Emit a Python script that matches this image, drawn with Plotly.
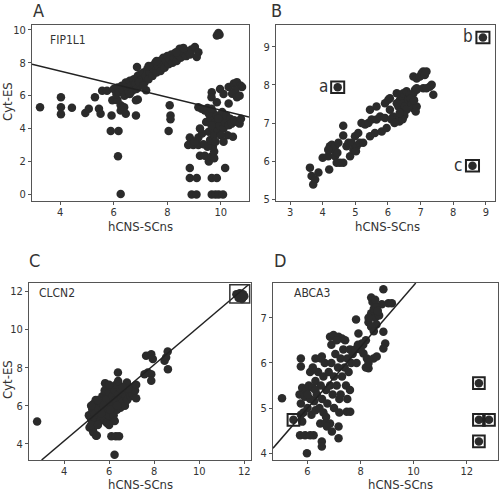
import plotly.graph_objects as go

# ---------------- data ----------------
panel_a_pts = [
    (3.25,5.3),(4.03,5.9),(4.03,5.3),(4.03,4.87),(4.44,5.27),(4.94,4.95),(5.07,5.21),(5.3,5.9),
    (5.45,5.2),(5.51,4.9),(5.57,6.3),(5.75,6.3),(5.92,4.8),(5.89,3.85),(6.18,3.85),(6.16,2.32),
    (6.26,0.02),(5.95,5.72),(6.26,5.41),(6.26,5.1),(6.39,5.3),(6.45,4.9),(6.83,4.8),(6.87,7.74),
    (6.9,5.76),(6.14,5.72),(6.83,5.72),
    (6.0,6.4),(6.1,6.1),(6.15,6.5),(6.2,6.2),(6.3,6.6),(6.35,6.3),(6.4,6.0),(6.45,6.8),(6.5,6.5),
    (6.55,6.2),(6.6,6.9),(6.65,6.6),(6.7,6.3),(6.75,7.0),(6.8,6.7),(6.85,6.4),(6.9,7.2),(6.95,6.9),
    (7.0,7.3),(7.0,6.6),(7.05,7.0),(7.1,7.4),(7.15,6.8),(7.2,7.2),(7.21,6.32),(7.25,7.6),(7.3,7.0),
    (7.35,7.4),(7.4,7.8),(7.45,7.2),(7.5,7.6),(7.55,8.0),(7.6,7.4),(7.65,7.8),(7.7,8.1),(7.75,7.5),
    (7.8,7.9),(7.85,8.3),(7.9,7.7),(7.95,8.1),(8.0,8.4),(8.05,7.9),(8.1,8.2),(8.15,8.5),(8.2,8.0),
    (8.25,8.3),(8.3,8.6),(8.35,8.1),(8.4,8.5),(8.46,8.85),(8.5,8.3),(8.6,8.6),(8.7,8.4),(8.75,8.7),
    (8.85,8.5),(8.9,8.8),(9.03,8.95),(9.16,8.64),(9.1,8.34),(8.34,8.64),(8.6,8.9),(7.3,7.8),(7.6,8.1),
    (6.95,6.82),(6.6,6.1),(7.1,6.6),
    (8.09,5.41),(8.12,4.8),(8.12,4.56),(8.05,3.85),
    (8.91,0.0),(9.09,0.0),(9.66,0.0),(9.8,0.0),(9.92,0.0),(10.08,0.0),
    (8.84,1.0),(9.1,1.0),(9.66,1.0),(9.85,1.0),(8.84,1.6),(10.16,1.6),
    (9.22,2.35),(9.4,2.35),(9.55,2.0),(9.65,2.3),(9.75,2.6),(9.7,2.9),(9.5,2.9),(9.6,3.3),
    (8.78,3.0),(8.97,3.0),(9.16,3.0),(9.35,3.05),(8.84,3.45),(9.16,3.45),(9.0,3.2),(9.3,3.7),
    (9.22,4.0),(9.45,4.4),(9.55,3.8),(9.6,4.6),(9.7,4.0),(9.7,5.0),(9.75,3.6),(9.8,4.4),(9.85,4.8),
    (9.9,3.9),(9.95,4.2),(10.0,4.6),(10.05,5.0),(10.1,4.0),(10.15,4.4),(10.2,4.8),(10.25,3.6),
    (10.3,4.2),(10.35,4.6),(10.4,4.3),(10.5,4.5),(10.6,4.4),(10.7,4.3),(10.75,4.6),(10.45,3.5),
    (9.65,4.2),(9.9,4.6),(10.0,3.6),(10.1,3.2),(9.8,3.2),(9.75,2.2),
    (9.16,5.3),(9.28,5.2),(9.4,5.1),(9.5,5.25),(9.55,4.9),(9.65,5.2),
    (9.66,6.2),(9.97,6.4),(10.1,6.1),(9.65,5.9),(9.85,5.6),
    (10.29,6.52),(10.48,6.73),(10.6,6.82),(10.73,6.62),(10.79,6.52),(10.54,6.32),(10.42,6.12),
    (10.29,5.52),(10.6,5.9),(10.7,6.0),
    (9.91,9.8),(9.85,9.65),(9.95,9.7),
]

panel_b_pts = [
    (3.61,5.83),(3.66,5.61),(3.77,5.52),(3.71,5.39),(3.87,5.7),(4.0,6.09),(4.17,6.13),(4.2,5.78),
    (4.22,6.39),(4.28,6.43),(4.33,6.3),(4.38,6.39),(4.17,6.3),(4.38,6.13),(4.43,5.96),(4.53,5.96),
    (4.63,5.96),(4.45,6.22),(4.63,6.93),(4.63,6.67),(4.48,6.48),(4.73,6.39),(4.79,6.48),(4.89,6.48),
    (4.84,6.13),(4.94,6.3),(5.04,6.39),(4.99,6.65),(5.09,6.74),(5.14,6.48),(5.24,6.48),(5.02,6.26),
    (5.19,7.0),(5.3,6.96),(5.4,7.0),(5.45,7.35),(5.65,7.43),(5.45,6.65),(5.6,6.74),(5.5,7.09),
    (5.65,7.09),(5.81,6.78),(5.76,7.17),(5.91,7.13),(5.96,6.87),(5.91,7.52),(6.01,7.61),(6.06,7.65),
    (6.06,7.35),(6.16,7.17),(6.11,7.09),(6.27,7.52),(6.32,7.43),(6.37,7.61),(6.42,7.7),(6.42,7.35),
    (6.35,7.17),(6.35,7.04),(6.47,7.78),(6.57,7.83),(6.67,7.74),(6.78,7.78),(6.83,7.87),(6.88,7.87),
    (6.47,7.52),(6.52,7.43),(6.57,7.35),(6.62,7.61),(6.72,7.52),(6.78,7.39),(6.88,7.43),(6.78,8.22),
    (6.88,8.17),(6.98,8.22),(7.03,8.3),(7.08,8.35),(7.13,8.26),(7.18,8.35),(6.88,7.91),(7.08,7.91),
    (7.34,8.0),(7.39,7.74),(6.27,7.78),(6.4,7.25),(6.5,7.2),(6.45,7.1),(6.7,7.65),(6.8,7.6),
    (6.85,7.3),(6.2,7.0),(6.36,7.26),(7.28,7.95),(7.18,7.91),
]
panel_b_marked = [(4.46,7.94),(8.91,9.24),(8.59,5.88)]
panel_b_marks = ["a","b","c"]

panel_c_pts = [
    (2.8,5.18),(6.39,7.75),(5.82,7.19),(6.79,7.22),(6.24,3.43),(6.1,4.4),(6.3,4.4),(6.44,4.4),
    (5.13,4.86),(5.28,4.69),(5.42,4.43),(6.09,5.21),
    (7.64,8.62),(7.87,8.71),(7.94,8.45),(7.72,7.75),(7.87,7.66),(7.87,7.31),(7.57,7.66),
    (8.53,8.53),(8.61,7.92),(8.46,8.36),(8.6,8.85),
    (5.1,5.5),(5.2,5.3),(5.25,5.8),(5.3,6.1),(5.35,5.6),(5.4,5.2),(5.4,6.3),(5.5,5.9),(5.55,5.5),
    (5.6,6.2),(5.6,5.2),(5.7,5.8),(5.7,6.5),(5.75,5.4),(5.8,6.1),(5.8,6.8),(5.85,5.6),(5.9,6.4),
    (5.9,5.1),(5.95,6.0),(6.0,6.7),(6.0,5.5),(6.05,6.2),(6.1,5.8),(6.1,7.0),(6.15,6.5),(6.2,6.0),
    (6.2,5.5),(6.25,6.8),(6.3,6.3),(6.3,7.1),(6.35,5.8),(6.4,6.6),(6.45,6.1),(6.5,6.9),(6.5,5.9),
    (6.55,6.4),(6.6,6.2),(6.65,6.6),(6.7,6.0),(6.75,6.5),(6.8,6.3),(6.9,6.7),(6.95,6.5),(7.0,6.9),
    (7.05,6.6),(7.1,7.0),(7.15,6.8),(7.2,7.1),(7.2,6.4),(6.85,6.9),(6.6,7.0),(6.4,7.3),(6.0,7.1),
    (5.3,4.9),(5.3,4.6),(5.45,4.45),(5.2,5.0),(5.5,5.0),(5.65,5.6),(5.85,6.3),(6.25,5.2),(6.0,5.0),
    (5.2,6.0),(5.5,6.3),(5.75,6.0),(6.05,5.8),(6.35,6.0),
    (11.65,11.85),(11.8,11.9),(11.95,11.85),(11.75,11.65),(11.9,11.6),(12.0,11.75),
]

panel_d_pts = [
    (5.04,5.22),(8.86,7.63),(5.98,4.0),(5.75,6.1),(5.75,5.92),
    (5.72,4.4),(5.91,4.4),(6.1,4.4),(6.23,4.4),(6.54,4.26),(6.54,4.15),
    (6.48,4.66),(6.67,4.66),(6.85,4.66),(6.73,4.59),(7.17,4.59),(7.17,4.33),(6.92,4.48),
    (7.48,4.92),(7.61,4.92),
    (6.54,6.14),(6.85,6.58),(6.98,6.62),(7.17,6.58),(7.3,6.54),(7.42,6.5),(7.83,6.96),
    (7.92,6.65),(8.05,6.43),(8.11,6.21),(8.24,6.1),(8.3,5.88),(8.49,6.1),(8.61,6.14),
    (8.86,6.69),(8.93,6.43),(8.86,6.32),(9.05,7.32),(9.18,7.32),
    (5.7,5.3),(5.75,5.1),(5.8,5.45),(5.85,4.9),(5.9,5.25),(5.75,4.85),(5.8,4.7),(5.95,5.4),
    (6.0,5.0),(6.05,5.5),(6.1,5.2),(6.15,4.85),(6.2,5.45),(6.25,5.15),(6.3,5.6),(6.3,4.95),
    (6.35,5.3),(6.4,5.8),(6.45,5.0),(6.5,5.5),(6.55,5.2),(6.6,5.7),(6.6,4.9),(6.65,6.0),(6.7,5.4),
    (6.75,5.1),(6.8,5.8),(6.85,5.5),(6.9,6.0),(6.95,5.3),(7.0,5.7),(7.05,6.2),(7.1,5.5),(7.15,5.9),
    (7.2,5.2),(7.25,6.1),(7.3,5.7),(7.35,6.3),(7.4,5.9),(7.45,5.5),(7.5,6.1),(7.55,5.8),(7.6,6.3),
    (7.65,6.0),(7.7,6.2),(7.8,6.3),(7.85,6.0),(7.9,6.4),(8.0,6.3),(8.1,6.4),(8.2,6.5),(7.0,5.0),
    (7.2,4.9),(7.25,5.3),(7.5,5.2),(7.6,5.4),(6.5,6.1),(6.3,6.1),(6.1,5.8),(6.9,6.4),(7.1,6.5),
    (6.7,4.8),(6.3,5.4),(6.0,5.3),(6.2,5.9),
    (8.3,6.9),(8.4,7.1),(8.5,7.2),(8.55,7.0),(8.45,7.35),(8.6,6.85),(8.7,7.05),(8.8,7.3),(8.6,7.25),
    (8.4,6.8),(8.3,7.0),(8.5,6.7),(8.65,7.15),(8.2,5.9),(8.3,6.0),(8.4,7.45),(8.55,7.4),
]
panel_d_marked = [(5.47,4.74),(12.46,5.55),(12.46,4.74),(12.84,4.74),(12.46,4.26)]

# fitted lines (slope, intercept, x-extent)
fit_a = (-0.395, 9.07, 2.95, 11.05)
fit_c = (1.0, 0.16, 3.0, 12.2)
fit_d = (0.68, 4.11 - 0.68 * 4.70, 4.70, 10.08)

# ---------------- layout helpers ----------------
W, H = 499, 492
DOT = "#2b2b2b"
AX = "#555555"
FONT = "Liberation Sans Narrow, DejaVu Sans Condensed, Arial Narrow, sans-serif"

panels = {
    "A": ("x", "y", (32, 249, 25, 201), [2.95, 11.05], [-0.4, 10.29], [4, 6, 8, 10], [0, 2, 4, 6, 8, 10]),
    "B": ("x2", "y2", (276, 495, 25, 201), [2.57, 9.28], [4.955, 9.57], [3, 4, 5, 6, 7, 8, 9], [5, 6, 7, 8, 9]),
    "C": ("x3", "y3", (29, 251, 283, 460), [2.44, 12.3], [3.16, 12.44], [4, 6, 8, 10, 12], [4, 6, 8, 10, 12]),
    "D": ("x4", "y4", (273, 498, 283, 460), [4.70, 13.18], [3.85, 7.77], [6, 8, 10, 12], [4, 5, 6, 7]),
}

fig = go.Figure()

def add_pts(pts, ax):
    xa, ya = panels[ax][0], panels[ax][1]
    fig.add_trace(go.Scatter(
        x=[p[0] for p in pts], y=[p[1] for p in pts], mode="markers",
        marker=dict(size=8.5, color=DOT, line=dict(width=0)),
        xaxis=xa, yaxis=ya, showlegend=False, hoverinfo="skip"))

def add_fit(fit, ax):
    m, b, x0, x1 = fit
    xa, ya = panels[ax][0], panels[ax][1]
    fig.add_trace(go.Scatter(
        x=[x0, x1], y=[m * x0 + b, m * x1 + b], mode="lines",
        line=dict(color="#222222", width=1.5),
        xaxis=xa, yaxis=ya, showlegend=False, hoverinfo="skip"))

add_pts(panel_a_pts, "A")
add_fit(fit_a, "A")
add_pts(panel_b_pts + panel_b_marked, "B")
add_pts(panel_c_pts, "C")
add_fit(fit_c, "C")
add_pts(panel_d_pts + panel_d_marked, "D")
add_fit(fit_d, "D")

layout = dict(width=W, height=H, margin=dict(l=0, r=0, t=0, b=0, autoexpand=False),
              paper_bgcolor="white", plot_bgcolor="white", showlegend=False,
              font=dict(family=FONT, color="#333333", size=11))

for name, (xa, ya, (px0, px1, py0, py1), xr, yr, xt, yt) in panels.items():
    xkey = "xaxis" + xa[1:]
    ykey = "yaxis" + ya[1:]
    common = dict(showline=True, mirror=True, linecolor=AX, linewidth=1, showgrid=False,
                  zeroline=False, ticks="outside", ticklen=3, tickcolor=AX, automargin=False,
                  tickfont=dict(family=FONT, size=11, color="#333333"), fixedrange=True)
    layout[xkey] = dict(domain=[px0 / W, px1 / W], range=xr, tickvals=xt,
                        anchor=ya, ticklabelstandoff=-2, **common)
    layout[ykey] = dict(domain=[1 - py1 / H, 1 - py0 / H], range=yr, tickvals=yt,
                        anchor=xa, **common)

fig.update_layout(**layout)

def ann(text, x, y, size=13, xanchor="center", color="#333333", angle=0):
    fig.add_annotation(text=text, x=x / W, y=1 - y / H, xref="paper", yref="paper",
                       showarrow=False, xanchor=xanchor, yanchor="middle", textangle=angle,
                       font=dict(family=FONT, size=size, color=color))

# panel letters
ann("A", 38, 11, size=18)
ann("B", 276, 11, size=18)
ann("C", 34, 260, size=18)
ann("D", 280, 260, size=18)
# axis titles
ann("hCNS-SCns", 140, 226, size=13)
ann("hCNS-SCns", 387, 226, size=13)
ann("hCNS-SCns", 140, 484, size=13)
ann("hCNS-SCns", 400, 484, size=13)
ann("Cyt-ES", 8, 102, size=13, angle=-90)
ann("Cyt-ES", 7, 380, size=13, angle=-90)
# gene labels
ann("FIP1L1", 48, 40, size=12, xanchor="left")
ann("CLCN2", 37, 293, size=12, xanchor="left")
ann("ABCA3", 292, 293, size=12, xanchor="left")

# marked points in B with letters
for (mx, my), lab in zip(panel_b_marked, panel_b_marks):
    fig.add_shape(type="rect", xref="x2", yref="y2", x0=mx - 0.2, x1=mx + 0.2,
                  y0=my - 0.15, y1=my + 0.15, line=dict(color="#222222", width=2))
    fig.add_annotation(text=lab, x=mx - 0.25, y=my + 0.03, xref="x2", yref="y2",
                       showarrow=False, xanchor="right", yanchor="middle",
                       font=dict(family=FONT, size=17, color="#333333"))

# box around cluster in C
fig.add_shape(type="rect", xref="x3", yref="y3", x0=11.36, x1=12.24, y0=11.39, y1=12.35,
              line=dict(color="#333333", width=1.5))

# boxes in D
for (mx, my) in panel_d_marked:
    fig.add_shape(type="rect", xref="x4", yref="y4", x0=mx - 0.22, x1=mx + 0.22,
                  y0=my - 0.13, y1=my + 0.13, line=dict(color="#222222", width=2))

fig.write_html("out.html", config={"responsive": False, "displayModeBar": False},
               post_script="document.body.style.margin='0';document.body.style.padding='0';")
